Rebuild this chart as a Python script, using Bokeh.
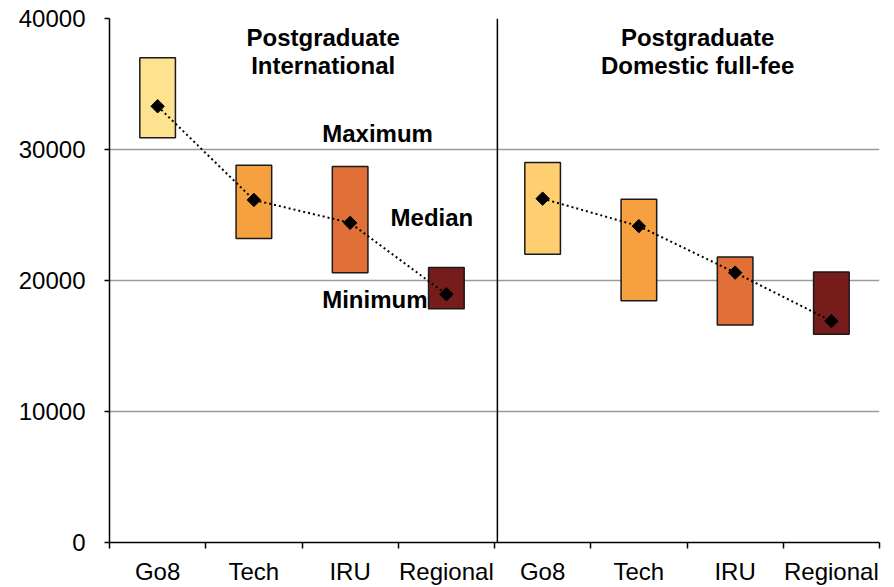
import math
from bokeh.plotting import figure
from bokeh.models import ColumnDataSource, FixedTicker, Span, Range1d
from bokeh.core.properties import value
from bokeh.embed import file_html
from bokeh.resources import INLINE

categories = ["Go8", "Tech", "IRU", "Regional"]
intl_max = [37000, 28800, 28700, 21000]
intl_min = [30900, 23200, 20600, 17850]
intl_median = [33300, 26150, 24400, 18950]
dom_max = [29000, 26200, 21800, 20650]
dom_min = [22000, 18450, 16600, 15900]
dom_median = [26250, 24150, 20600, 16900]
intl_colors = ["#FDE290", "#F7A040", "#E07038", "#761C1A"]
dom_colors = ["#FFCE70", "#F7A040", "#E07038", "#761C1A"]
y_ticks = [0, 10000, 20000, 30000, 40000]

FONT = "Liberation Sans"
FS = "24px"

p = figure(width=886, height=587, output_backend="svg", toolbar_location=None,
           x_range=Range1d(-0.5, 7.5), y_range=Range1d(0, 40000),
           min_border_left=109, min_border_right=7, min_border_top=18, min_border_bottom=36)
p.outline_line_color = None
p.background_fill_color = "white"

xs_intl = list(range(0, 4))
xs_dom = list(range(4, 8))

src_i = ColumnDataSource(dict(x=xs_intl, top=intl_max, bottom=intl_min, med=intl_median, color=intl_colors))
src_d = ColumnDataSource(dict(x=xs_dom, top=dom_max, bottom=dom_min, med=dom_median, color=dom_colors))

# grid
p.xgrid.visible = False
p.ygrid.ticker = FixedTicker(ticks=y_ticks)
p.ygrid.grid_line_color = "#9a9a9a"
p.ygrid.grid_line_width = 1.5

for src in (src_i, src_d):
    p.vbar(x="x", top="top", bottom="bottom", width=0.37, fill_color="color",
           line_color="#1a1a1a", line_width=1.5, source=src)
    p.line(x="x", y="med", line_color="black", line_width=2, line_dash="2 3", source=src)
    p.scatter(x="x", y="med", marker="square", angle=math.pi / 4, size=9.5,
              fill_color="black", line_color="black", source=src)

p.add_layout(Span(location=3.53, dimension="height", line_color="black", line_width=1.5))

# annotations
p.text(x=[1.72, 1.72], y=[38550, 36450], text=["Postgraduate", "International"],
       text_align="center", text_baseline="alphabetic", text_font=value(FONT),
       text_font_style="bold", text_font_size=FS, text_color="black")
p.text(x=[5.61, 5.61], y=[38550, 36450], text=["Postgraduate", "Domestic full-fee"],
       text_align="center", text_baseline="alphabetic", text_font=value(FONT),
       text_font_style="bold", text_font_size=FS, text_color="black")
p.text(x=[1.71, 2.42, 1.71], y=[31240, 24840, 18560], text=["Maximum", "Median", "Minimum"],
       text_align="left", text_baseline="alphabetic", text_font=value(FONT),
       text_font_style="bold", text_font_size=FS, text_color="black")

# axes
xa = p.xaxis[0]
xa.ticker = FixedTicker(ticks=list(range(8)), minor_ticks=[i - 0.5 for i in range(9)])
xa.major_label_overrides = {i: categories[i % 4] for i in range(8)}
xa.major_tick_out = 0
xa.major_tick_in = 0
xa.minor_tick_out = 6
xa.minor_tick_in = 0
xa.minor_tick_line_color = "black"
xa.minor_tick_line_width = 1.5
xa.axis_line_color = "black"
xa.axis_line_width = 1.5
xa.major_label_standoff = 9
xa.major_label_text_font = FONT
xa.major_label_text_font_size = FS
xa.major_label_text_color = "black"

ya = p.yaxis[0]
ya.ticker = FixedTicker(ticks=y_ticks)
ya.minor_tick_line_color = None
ya.major_tick_out = 5
ya.major_tick_in = 0
ya.major_tick_line_color = "black"
ya.major_tick_line_width = 1.5
ya.axis_line_color = "black"
ya.axis_line_width = 1.5
ya.major_label_standoff = 19
ya.major_label_text_font = FONT
ya.major_label_text_font_size = FS
ya.major_label_text_color = "black"

open("out.html", "w").write(file_html(p, INLINE))
